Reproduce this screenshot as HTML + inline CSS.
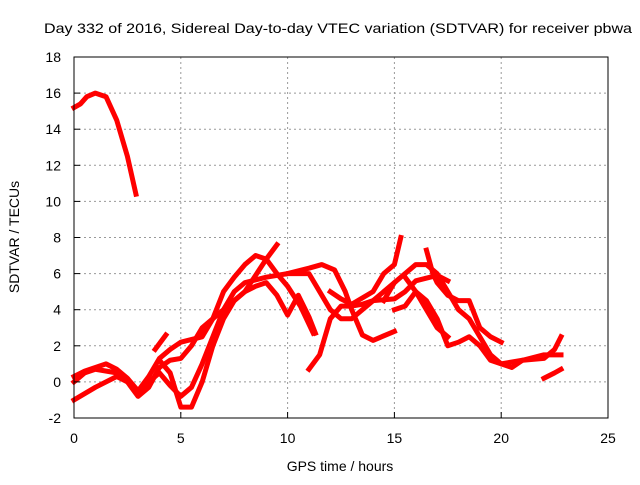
<!DOCTYPE html>
<html><head><meta charset="utf-8"><style>
body{margin:0;background:#fff}
svg text{font-family:"Liberation Sans",sans-serif;font-size:14px;fill:#000}
</style></head><body>
<svg id="chart" width="640" height="480">
<text x="44" y="33" textLength="588" lengthAdjust="spacingAndGlyphs" font-size="14">Day 332 of 2016, Sidereal Day-to-day VTEC variation (SDTVAR) for receiver pbwa</text>
<g id="grid"></g>
<g id="series"></g>
<rect x="74" y="57" width="534" height="361" fill="none" stroke="#000"/>
<g id="ticks"></g>
<text x="340" y="471" text-anchor="middle">GPS time / hours</text>
<text transform="translate(19,237) rotate(-90)" text-anchor="middle">SDTVAR / TECUs</text>
</svg>
<script>
const xTicks=[0,5,10,15,20,25];
const yTicks=[-2,0,2,4,6,8,10,12,14,16,18];
const s1=[[0,15.2],[0.3,15.4],[0.6,15.8],[1,16],[1.5,15.8],[2,14.5],[2.5,12.5],[2.9,10.4]];
const s2=[[0,-1],[1,-0.3],[2,0.3],[2.5,0],[3,-0.8],[3.5,-0.3],[4,0.8],[4.5,1.2],[5,1.3],[5.5,2],[6,3],[7,4],[8,5],[9,6.8],[9.5,7.6]];
const s3=[[0,0.3],[0.5,0.6],[1,0.8],[1.5,1],[2,0.7],[2.5,0.2],[3,-0.5],[3.5,0.3],[4,1.3],[4.5,1.8],[5,2.2],[6,2.5],[6.5,3.5],[7,5],[7.5,5.8],[8,6.5],[8.5,7],[9,6.8],[9.5,6],[10,5.3],[10.6,4.2],[11.2,2.7]];
const s4=[[0,0],[0.5,0.5],[1,0.7],[2,0.5],[3,-0.5],[4,0.5],[4.5,-0.2],[5,-0.8],[5.5,-0.3],[6,1],[6.5,2.5],[7,4],[7.5,5],[8,5.5],[9,5.8],[10,6],[11,6],[11.5,5],[12,4],[12.5,3.5],[13,3.5],[14,4.5],[15,5.5]];
const s5=[[4,1.2],[4.5,0.5],[5,-1.4],[5.5,-1.4],[6,0],[6.5,2],[7,3.5],[7.5,4.5],[8,5],[8.5,5.3],[9,5.5],[9.5,4.8],[10,3.7],[10.5,4.8],[11,3.6],[11.3,2.7]];
const s6=[[11,0.7],[11.5,1.5],[12,3.5],[12.5,4.2],[13,4.2],[13.5,4.3],[14,4.5],[15,4.6],[15.5,5],[16,5.6],[17,5.9],[17.5,5.6]];
const s7=[[10,6],[11,6.3],[11.6,6.5],[12.2,6.2],[12.7,5],[13,4],[13.5,2.6],[14,2.3],[15,2.8]];
const s8=[[12,5],[12.5,4.6],[13,4.3],[14,5],[14.5,6],[15,6.5],[15.3,8]];
const s9=[[14.5,4.5],[15,5.5],[16,6.5],[16.5,6.5],[17,6],[17.5,5],[18,4],[18.5,3.5],[19,2.5],[19.5,1.5],[20,1],[20.5,0.8],[21,1.2],[22,1.3],[22.5,1.8],[22.8,2.5]];
const s10=[[15,4],[15.5,4.2],[16,5],[16.5,4.5],[17,3.5],[17.5,2],[18,2.2],[18.5,2.5],[19,2],[19.5,1.2],[20,1],[21,1.2],[22,1.5],[22.8,1.5]];
const s11=[[16.5,7.3],[16.8,6],[17,5.5],[17.5,4.8],[18,4.5],[18.5,4.5],[19,3],[19.5,2.5],[20,2.2]];
const s12=[[22,0.2],[22.5,0.5],[22.8,0.7]];
const s13=[[3.8,1.8],[4.3,2.6]];
const s14=[[15.5,5.8],[16,5],[16.5,4],[17,3],[17.5,2.5]];
const allSeries=[s1,s2,s3,s4,s5,s6,s7,s8,s9,s10,s11,s12,s13,s14];
const X=h=>74+h*534/25, Y=v=>418-(v+2)*361/20;
const NS="http://www.w3.org/2000/svg";
const grid=document.getElementById('grid'),ticks=document.getElementById('ticks'),sg=document.getElementById('series');
function mk(tag,attrs,parent){const e=document.createElementNS(NS,tag);for(const k in attrs)e.setAttribute(k,attrs[k]);parent.appendChild(e);return e;}
xTicks.forEach(t=>{
 if(t>0&&t<25){const g=mk('line',{x1:X(t),x2:X(t),y1:57,y2:418,stroke:'#999','stroke-dasharray':'2,3'},grid);
 
 }
 const l=mk('text',{x:X(t),y:443,'text-anchor':'middle'},ticks);l.textContent=t;
 
 
 mk('line',{x1:X(t),x2:X(t),y1:418,y2:412,stroke:'#000'},ticks);
});
yTicks.forEach(t=>{
 if(t>-2&&t<18){const g=mk('line',{x1:74,x2:608,y1:Y(t),y2:Y(t),stroke:'#999','stroke-dasharray':'2,3'},grid);
 
 }
 const l=mk('text',{x:61,y:Y(t)+5,'text-anchor':'end'},ticks);l.textContent=t;
 
 
 mk('line',{x1:74,x2:80,y1:Y(t),y2:Y(t),stroke:'#000'},ticks);
});
allSeries.forEach((s,i)=>{
 const p=mk('polyline',{points:s.map(d=>X(d[0])+','+Y(d[1])).join(' '),fill:'none',stroke:'#ff0000','stroke-width':5,'stroke-linejoin':'round','stroke-linecap':'square'},sg);
 
 
});
</script>
</body></html>
